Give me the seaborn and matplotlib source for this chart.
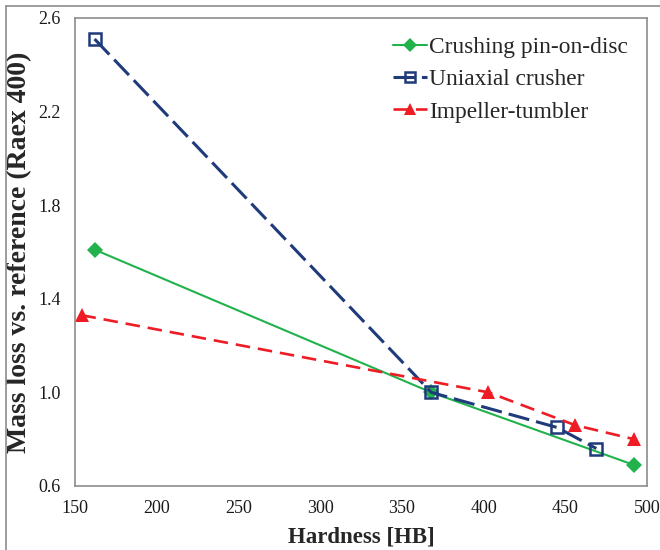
import seaborn as sns
import matplotlib.pyplot as plt
import matplotlib.lines as mlines

sns.set_theme(style='white')
plt.rcParams['font.family'] = ['Liberation Serif', 'DejaVu Serif']

# Data
pin_hb = [162, 368, 492]
pin_loss = [1.61, 1.00, 0.69]

crusher_hb = [162, 368, 445, 469]
crusher_loss = [2.51, 1.00, 0.85, 0.76]

tumbler_hb = [154, 403, 456, 492]
tumbler_loss = [1.33, 1.00, 0.86, 0.80]

x_ticks = [150, 200, 250, 300, 350, 400, 450, 500]
y_ticks = [0.6, 1.0, 1.4, 1.8, 2.2, 2.6]

fig = plt.figure(figsize=(6.6, 5.5), dpi=100)
ax = fig.add_axes([0.1136, 0.1164, 0.8667, 0.8509])

sns.lineplot(x=pin_hb, y=pin_loss, ax=ax, color='#22B24C', lw=1.5,
             marker='D', markersize=8.5, markeredgewidth=0,
             label='Crushing pin-on-disc')
sns.lineplot(x=crusher_hb, y=crusher_loss, ax=ax, color='#1F3B7A', lw=2.2,
             linestyle=(0, (7, 2.3)), marker='s', markersize=9,
             markerfacecolor='none', markeredgecolor='#1F3B7A',
             markeredgewidth=1.8, label='Uniaxial crusher')
sns.lineplot(x=tumbler_hb, y=tumbler_loss, ax=ax, color='#EE1C24', lw=1.9,
             linestyle=(0, (5.5, 3)), marker='^', markersize=10.5,
             markeredgewidth=0, label='Impeller-tumbler')

ax.set_xlim(150, 500)
ax.set_ylim(0.6, 2.6)
ax.set_xticks(x_ticks)
ax.set_yticks(y_ticks)
ax.set_yticklabels([f'{v:.1f}' for v in y_ticks])
ax.tick_params(length=0, labelsize=13, colors='#1a1a1a')
ax.tick_params(axis='x', pad=10)
ax.tick_params(axis='y', pad=10)

for s in ax.spines.values():
    s.set_color('#8c8c8c')
    s.set_linewidth(1.2)

ax.set_xlabel('Hardness [HB]', fontsize=16.5, fontweight='bold', labelpad=7)
ax.set_ylabel('Mass loss vs. reference (Raex 400)', fontsize=20,
              fontweight='bold', labelpad=5)

ax.legend(loc='upper right', frameon=False, fontsize=16.8, handlelength=1.45,
          handletextpad=0.12, labelspacing=0.47, borderaxespad=0.4,
          markerscale=0.8)

# Outer figure border (left and top)
fig.add_artist(mlines.Line2D([6 / 660, 6 / 660], [0, 1 - 6 / 550],
                             color='#8c8c8c', lw=1.2))
fig.add_artist(mlines.Line2D([6 / 660, 1], [1 - 6 / 550, 1 - 6 / 550],
                             color='#8c8c8c', lw=1.2))

fig.savefig('out.png', dpi=100, facecolor='white')
